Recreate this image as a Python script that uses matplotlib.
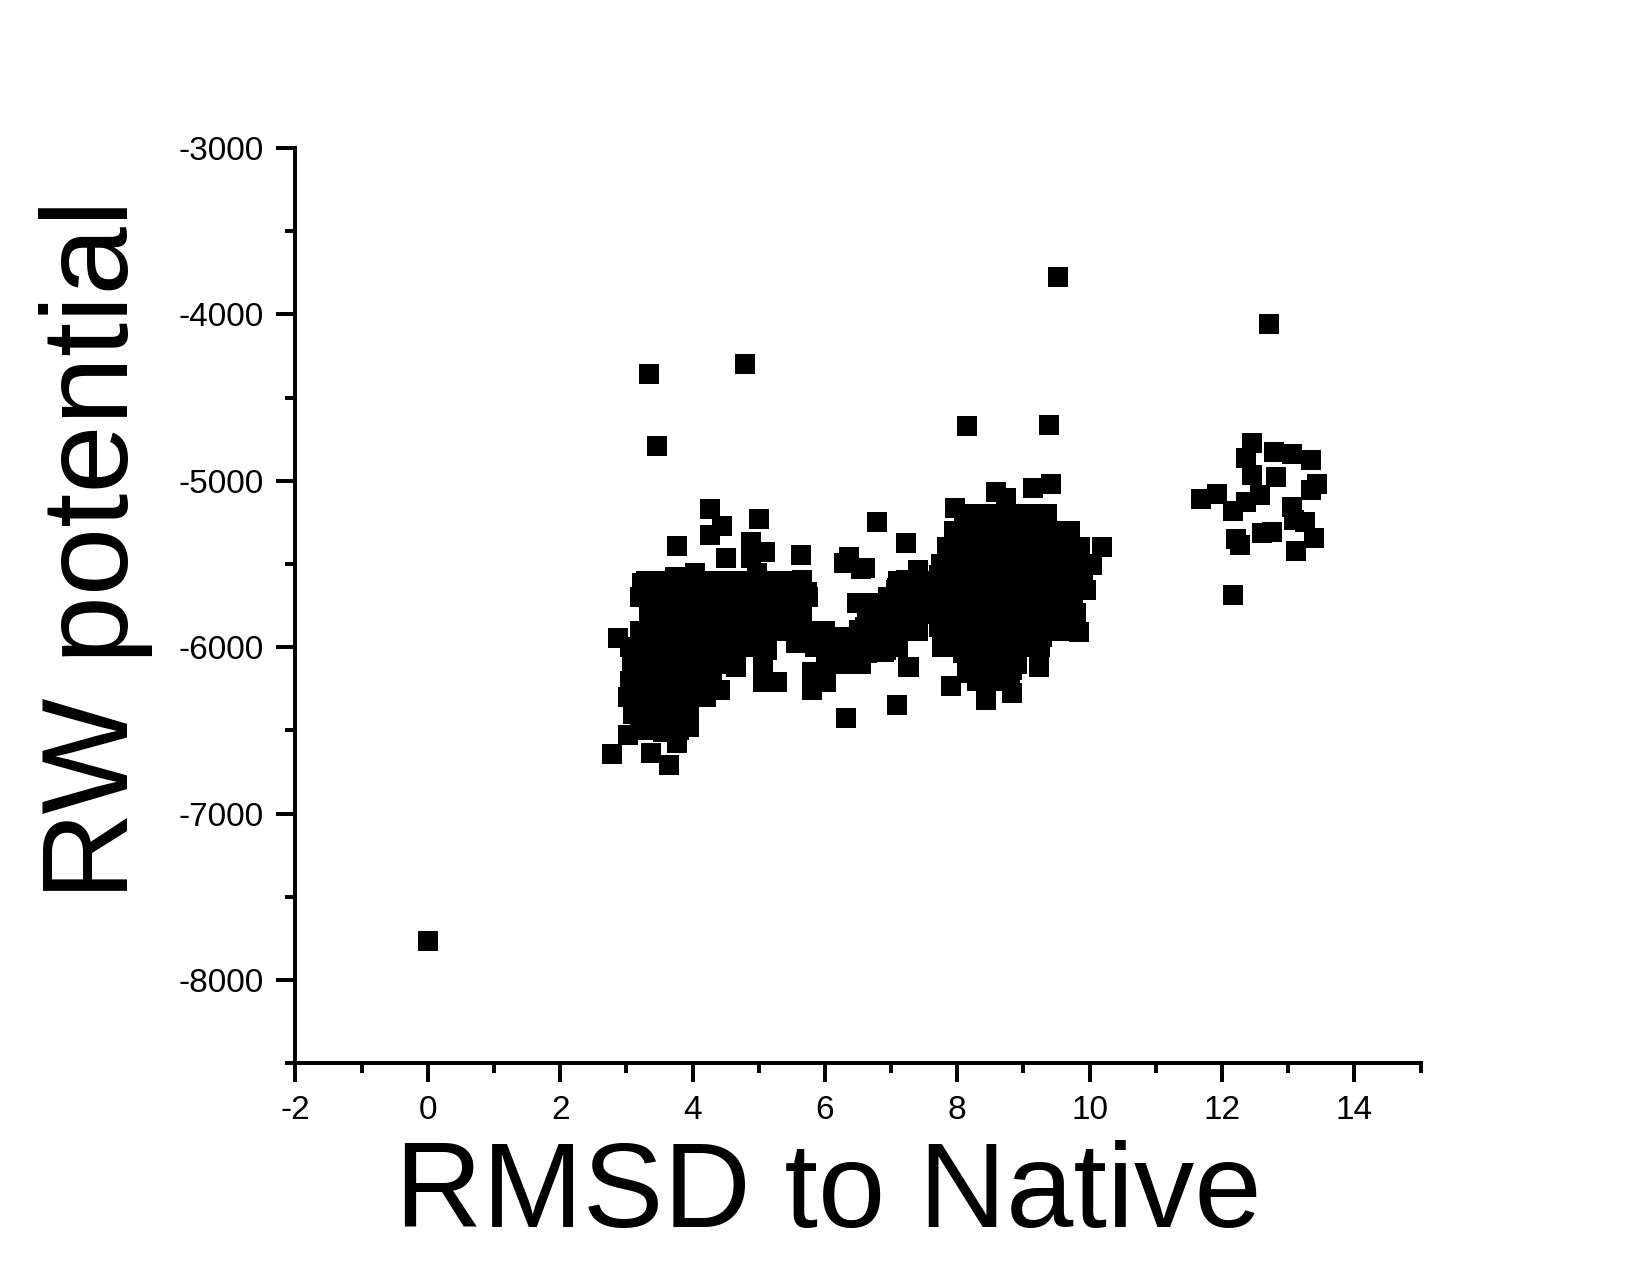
import matplotlib
matplotlib.use("Agg")
import matplotlib.pyplot as plt
from matplotlib.ticker import MultipleLocator

plt.rcParams['font.family'] = ['Liberation Sans', 'DejaVu Sans']
plt.rcParams['axes.unicode_minus'] = False

# RMSD (x) and RW potential (y) - separate points
rmsd = [
    0.00, 9.52, 12.71, 3.34, 4.80, 3.47, 8.15, 9.38,
    # left cluster
    4.27, 5.01, 6.78, 4.44, 4.26, 3.76, 4.89, 5.09, 4.51, 4.89, 5.64, 6.37, 6.29, 6.54,
    4.98, 3.73, 4.03, 3.24, 3.40, 3.85, 4.29, 4.71, 5.66, 5.73, 5.37, 5.01, 3.46, 3.95,
    4.41, 4.81, 5.61, 6.48, 6.63, 6.57, 2.87, 3.20, 3.50, 3.95, 4.41, 4.90, 5.36, 5.57,
    5.92, 6.22, 6.67, 6.41, 6.02, 3.09, 3.30, 3.70, 4.15, 4.56, 5.06, 3.30, 3.76, 4.21,
    4.66, 5.06, 5.27, 5.80, 5.81, 6.02, 6.32, 3.02, 3.46, 3.91, 4.41, 3.20, 3.50, 3.95,
    3.02, 3.55, 3.95, 3.76, 2.78, 3.38, 3.65,
    # middle
    7.23, 7.96, 7.40, 7.73, 7.96, 7.09, 6.97, 7.27, 7.68, 7.98, 6.87, 7.23, 7.77, 8.08,
    7.77, 8.08, 6.90, 5.12, 5.06, 7.27, 8.14, 7.91, 7.09, 6.52, 6.60, 7.23, 7.08, 6.93,
    6.63, 6.82, 6.60, 6.63, 6.93, 7.26,
    # cluster around 8-10
    8.59, 8.74, 9.15, 9.42, 8.89, 9.28, 9.65, 9.74, 10.18, 10.04, 9.95, 9.80, 9.84, 9.54,
    9.24, 8.83, 8.44, 8.18, 8.53, 8.83, 8.03, 8.23, 8.64, 7.93, 7.77, 7.73, 7.58, 7.73,
    7.77, 8.18, 8.64, 8.94, 9.28, 9.54, 9.65, 9.34, 9.04, 8.64, 8.33, 8.23, 8.74, 9.24,
    8.14, 8.64, 9.13, 8.03, 8.44, 8.89, 8.18,
    # right cluster
    12.45, 12.36, 12.78, 13.05, 13.34, 12.45, 12.81, 13.43, 13.35, 11.92, 11.68, 12.58,
    12.36, 12.17, 13.05, 13.08, 13.25, 13.39, 12.75, 12.60, 12.21, 12.27, 13.11, 12.16,
]
rw = [
    -7766, -3778, -4057, -4361, -4297, -4791, -4671, -4664,
    -5170, -5230, -5250, -5271, -5325, -5391, -5367, -5427, -5464, -5464, -5446, -5458, -5494, -5530,
    -5554, -5578, -5554, -5614, -5668, -5656, -5638, -5614, -5596, -5668, -5704, -5704, -5776, -5776,
    -5758, -5758, -5807, -5734, -5795, -5897, -5945, -5945, -5939, -5915, -5909, -5915, -5879, -5975,
    -5975, -5939, -6017, -6059, -6059, -6095, -6017, -6035, -6017, -6017, -6017, -6155, -6155, -6137,
    -6119, -6210, -6210, -6149, -6258, -6210, -6426, -6300, -6276, -6276, -6258, -6438, -6420, -6396,
    -6528, -6510, -6480, -6576, -6643, -6637, -6709,
    -5373, -5163, -5536, -5566, -5373, -5644, -5758, -5716, -5698, -5674, -5879, -5855, -5879, -5915,
    -5975, -6035, -6029, -6017, -6137, -6119, -6155, -6234, -6348, -5897, -5524, -5596, -5656, -5734,
    -5734, -5855, -5879, -6035, -6017, -6119,
    -5067, -5103, -5043, -5019, -5235, -5265, -5307, -5398, -5398, -5506, -5656, -5795, -5909, -5897,
    -6119, -6276, -6318, -6119, -6119, -6137, -5355, -5295, -5295, -5416, -5578, -5674, -5776, -5879,
    -5999, -6017, -6017, -5975, -5939, -5758, -5578, -5458, -5416, -5416, -5416, -5578, -5578, -5614,
    -5734, -5734, -5776, -5879, -5897, -5897, -6059,
    -4772, -4862, -4826, -4838, -4874, -4964, -4976, -5018, -5054, -5078, -5108, -5084,
    -5126, -5180, -5156, -5234, -5246, -5342, -5306, -5312, -5348, -5384, -5420, -5685,
]

# densely overlapping points inside the three blobs, one row per RW level
left_rw = [-5600, -5700, -5800, -5900, -6000, -6100, -6200, -6300, -6400, -6500]
left_rmsd = [
    [3.3, 3.55, 3.8, 4.05, 4.3, 4.55, 4.8, 5.05, 5.3],
    [3.2, 3.45, 3.7, 3.95, 4.2, 4.45, 4.7, 4.95, 5.2, 5.45],
    [3.35, 3.6, 3.85, 4.1, 4.35, 4.6, 4.85, 5.1, 5.35],
    [3.2, 3.45, 3.7, 3.95, 4.2, 4.45, 4.7, 4.95, 5.2],
    [3.05, 3.3, 3.55, 3.8, 4.05, 4.3, 4.55, 4.8],
    [3.15, 3.4, 3.65, 3.9, 4.15, 4.4, 4.65],
    [3.05, 3.3, 3.55, 3.8, 4.05, 4.3],
    [3.2, 3.45, 3.7, 3.95, 4.2],
    [3.1, 3.35, 3.6, 3.85],
    [3.3, 3.55, 3.8],
]
mid_rw = [-5600, -5700, -5800, -5900, -6000, -6100]
mid_rmsd = [
    [5.4, 5.65, 7.1, 7.35],
    [5.5, 5.75, 6.95, 7.2, 7.45],
    [5.4, 5.65, 6.8, 7.05, 7.3, 7.55],
    [5.5, 5.75, 6.0, 6.65, 6.9, 7.15, 7.4],
    [5.85, 6.1, 6.35, 6.6, 6.85, 7.1],
    [6.05, 6.3, 6.55],
]
right_rw = [-5200, -5300, -5400, -5500, -5600, -5700, -5800, -5900, -6000, -6100, -6200]
right_rmsd = [
    [8.1, 8.35, 8.6, 8.85, 9.1, 9.35],
    [7.95, 8.2, 8.45, 8.7, 8.95, 9.2, 9.45, 9.7],
    [7.85, 8.1, 8.35, 8.6, 8.85, 9.1, 9.35, 9.6, 9.85],
    [7.75, 8.0, 8.25, 8.5, 8.75, 9.0, 9.25, 9.5, 9.75, 9.95],
    [7.65, 7.9, 8.15, 8.4, 8.65, 8.9, 9.15, 9.4, 9.65, 9.9],
    [7.75, 8.0, 8.25, 8.5, 8.75, 9.0, 9.25, 9.5, 9.75],
    [7.7, 7.95, 8.2, 8.45, 8.7, 8.95, 9.2, 9.45, 9.7],
    [7.85, 8.1, 8.35, 8.6, 8.85, 9.1, 9.35, 9.6],
    [8.0, 8.25, 8.5, 8.75, 9.0, 9.25],
    [8.15, 8.4, 8.65, 8.9],
    [8.3, 8.55, 8.8],
]

x = list(rmsd)
y = list(rw)
for rows_y, rows_x in [(left_rw, left_rmsd), (mid_rw, mid_rmsd), (right_rw, right_rmsd)]:
    for yy, xs in zip(rows_y, rows_x):
        x += xs
        y += [yy] * len(xs)

fig = plt.figure(figsize=(11, 8.5), dpi=150)
ax = fig.add_axes([0.179, 0.166, 0.682, 0.718])
ax.scatter(x, y, marker='s', s=88, color='black', linewidths=0)

ax.set_xlim(-2, 15)
ax.set_ylim(-8500, -3000)
ax.xaxis.set_major_locator(MultipleLocator(2))
ax.xaxis.set_minor_locator(MultipleLocator(1))
ax.yaxis.set_major_locator(MultipleLocator(1000))
ax.yaxis.set_minor_locator(MultipleLocator(500))

for s in ['top', 'right']:
    ax.spines[s].set_visible(False)
for s in ['left', 'bottom']:
    ax.spines[s].set_linewidth(1.9)

ax.tick_params(which='major', direction='out', length=9, width=1.9, labelsize=16, pad=6)
ax.tick_params(which='minor', direction='out', length=5, width=1.9)

fig.text(0.502, 0.062, 'RMSD to Native', fontsize=58, ha='center', va='center')
fig.text(0.058, 0.569, 'RW potential', fontsize=59, rotation=90, ha='center', va='center')

fig.savefig('out.png', dpi=150)
